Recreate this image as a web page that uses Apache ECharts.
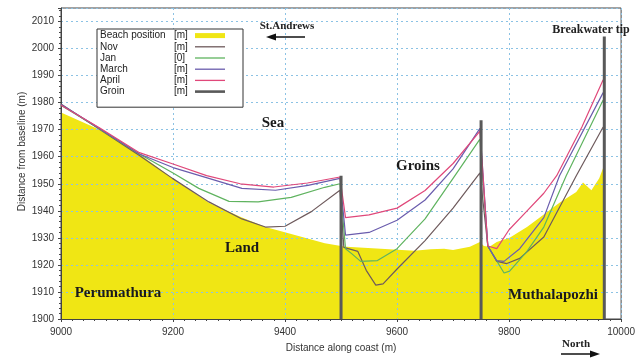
<!DOCTYPE html>
<html>
<head>
<meta charset="utf-8">
<script src="https://cdn.jsdelivr.net/npm/echarts@6/dist/echarts.min.js"></script>
<style>
  html, body { margin: 0; padding: 0; background: #fff; }
  .chart { width: 638px; height: 358px; }
</style>
</head>
<body>
<div class="chart"></div>
<script>
// shoreline positions, [distance along coast, distance from baseline]
var beach = [[9000,1976.4],[9069,1970],[9140,1961],[9199,1952],[9264,1943],[9323,1937.5],[9365,1934],[9411,1931.4],[9471,1928],[9500,1927],[9510,1926.7],[9571,1926],[9631,1925.2],[9660,1925.8],[9684,1926],[9700,1925.5],[9730,1926.7],[9748,1928.5],[9755,1927],[9765,1926.7],[9778,1928.5],[9801,1930],[9832,1934],[9862,1938.6],[9890,1943],[9920,1947],[9932,1950.5],[9947,1947.6],[9961,1952],[9970,1957]];
var nov = [[9000,1979.5],[9070,1970],[9140,1960.5],[9199,1952],[9264,1943.3],[9323,1937],[9365,1934],[9400,1934.3],[9447,1939.7],[9498,1947.6],[9505,1926.5],[9530,1925],[9545,1918],[9562,1912.5],[9575,1913],[9600,1918.5],[9650,1929],[9700,1941],[9748,1954],[9762,1927],[9778,1921.3],[9796,1920.5],[9819,1922.4],[9862,1930.3],[9920,1953],[9968,1971]];
var jan = [[9000,1979],[9070,1970.2],[9140,1961],[9200,1954],[9246,1948.3],[9300,1943.5],[9352,1943.3],[9411,1945],[9471,1948.7],[9498,1950],[9508,1926],[9520,1924],[9535,1921.3],[9565,1921.6],[9600,1926],[9650,1937],[9700,1952],[9748,1966.5],[9762,1927],[9791,1917],[9801,1917.7],[9832,1925],[9862,1934],[9902,1953],[9968,1981]];
var march = [[9000,1979.3],[9070,1970.3],[9140,1961],[9200,1956],[9264,1952],[9323,1948.3],[9383,1947.6],[9441,1949.4],[9498,1952],[9508,1931],[9550,1932],[9600,1936.5],[9650,1944],[9700,1955.5],[9748,1970.5],[9762,1927],[9778,1921.6],[9791,1921.3],[9819,1926],[9862,1937.5],[9890,1953],[9968,1983.7]];
var april = [[9000,1979],[9070,1970.5],[9140,1961.5],[9200,1957.3],[9260,1953],[9320,1950],[9380,1948.8],[9440,1950.3],[9498,1952.5],[9508,1937.5],[9550,1938.5],[9600,1941],[9650,1947.5],[9700,1957.5],[9748,1969.5],[9762,1927],[9778,1926],[9800,1933],[9830,1939.5],[9862,1946.5],[9885,1953],[9930,1971],[9968,1988.5]];
var groinX = [9500, 9750, 9970];
var groinTop = [1953, 1973.5, 2004.5];
var legendNames = ['Beach position', 'Nov', 'Jan', 'March', 'April', 'Groin'];
var legendUnits = ['[m]', '[m]', '[0]', '[m]', '[m]', '[m]'];

(function () {
    var myChart = echarts.init(document.querySelector('.chart'));
    var serif = 'Liberation Serif';
    var sans = 'Liberation Sans';

    function lineSeries(name, data, color) {
        return {
            name: name,
            type: 'line',
            data: data,
            symbol: 'none',
            lineStyle: { color: color, width: 1.2 },
            itemStyle: { color: color },
            z: 3
        };
    }

    var series = [
        {
            name: 'Beach position',
            type: 'line',
            data: beach,
            symbol: 'none',
            lineStyle: { width: 0 },
            itemStyle: { color: '#f0e614' },
            areaStyle: { color: '#f0e614', opacity: 1, origin: 'start' },
            z: 1
        },
        lineSeries('Nov', nov, '#6e5a5c'),
        lineSeries('Jan', jan, '#5fb35f'),
        lineSeries('March', march, '#6a5cad'),
        lineSeries('April', april, '#e0487a')
    ];
    groinX.forEach(function (x, i) {
        series.push({
            name: 'Groin',
            type: 'line',
            data: [[x, 1900], [x, groinTop[i]]],
            symbol: 'none',
            lineStyle: { color: '#595959', width: 3 },
            itemStyle: { color: '#595959' },
            z: 4
        });
    });

    // legend swatches: a thick bar for the beach, thin bars for the lines
    var icons = {
        'Beach position': 'path://M0,0H30V5H0Z',
        'Groin': 'path://M0,0H30V2.6H0Z'
    };
    var thinIcon = 'path://M0,0H30V1.3H0Z';

    var labels = [
        { text: 'Sea', x: 273, y: 123 },
        { text: 'Groins', x: 418, y: 166 },
        { text: 'Land', x: 242, y: 248 },
        { text: 'Perumathura', x: 118, y: 293 },
        { text: 'Muthalapozhi', x: 553, y: 295 }
    ];
    var graphic = labels.map(function (l) {
        return {
            type: 'text', x: l.x, y: l.y, z: 10,
            style: { text: l.text, font: 'bold 15px ' + serif, fill: '#1a1a1a', align: 'center', verticalAlign: 'middle' }
        };
    });
    graphic.push(
        { type: 'text', x: 287, y: 26, z: 10, style: { text: 'St.Andrews', font: 'bold 11px ' + serif, fill: '#222', align: 'center', verticalAlign: 'middle' } },
        { type: 'line', z: 10, shape: { x1: 274, y1: 37, x2: 305, y2: 37 }, style: { stroke: '#111', lineWidth: 1.5 } },
        { type: 'polygon', z: 10, shape: { points: [[266, 37], [276, 33.5], [276, 40.5]] }, style: { fill: '#111' } },
        { type: 'text', x: 591, y: 30, z: 10, style: { text: 'Breakwater tip', font: 'bold 12px ' + serif, fill: '#222', align: 'center', verticalAlign: 'middle' } },
        { type: 'text', x: 576, y: 344, z: 10, style: { text: 'North', font: 'bold 11px ' + serif, fill: '#222', align: 'center', verticalAlign: 'middle' } },
        { type: 'line', z: 10, shape: { x1: 561, y1: 354, x2: 592, y2: 354 }, style: { stroke: '#111', lineWidth: 1.5 } },
        { type: 'polygon', z: 10, shape: { points: [[600, 354], [590, 350.5], [590, 357.5]] }, style: { fill: '#111' } }
    );

    var option = {
        animation: false,
        backgroundColor: '#fff',
        grid: {
            left: 61, right: 12, top: 8, bottom: 31,
            show: true, borderColor: '#444', borderWidth: 1, backgroundColor: '#fff'
        },
        legend: {
            left: 97,
            top: 29,
            orient: 'vertical',
            align: 'right',
            selectedMode: false,
            backgroundColor: '#fff',
            borderColor: '#333',
            borderWidth: 1,
            borderRadius: 0,
            padding: [1, 18, 10, 3],
            itemGap: 0,
            itemWidth: 30,
            itemHeight: 5,
            symbolKeepAspect: true,
            z: 20,
            data: legendNames.map(function (n) {
                return { name: n, icon: icons[n] || thinIcon, itemStyle: { borderWidth: 0 } };
            }),
            formatter: function (name) {
                return '{n|' + name + '}{u|' + legendUnits[legendNames.indexOf(name)] + '}';
            },
            textStyle: {
                fontFamily: sans, fontSize: 10, color: '#222', lineHeight: 11.2,
                rich: {
                    n: { width: 74, align: 'left', fontFamily: sans, fontSize: 10, color: '#222' },
                    u: { width: 16, align: 'left', fontFamily: sans, fontSize: 10, color: '#222' }
                }
            }
        },
        xAxis: {
            type: 'value',
            min: 9000,
            max: 10000,
            interval: 200,
            z: 2,
            name: 'Distance along coast (m)',
            nameLocation: 'middle',
            nameGap: 24,
            nameTextStyle: { fontFamily: sans, fontSize: 10, color: '#333' },
            axisLine: { lineStyle: { color: '#444' } },
            axisTick: { length: 3, lineStyle: { color: '#444' } },
            minorTick: { show: true, splitNumber: 10, length: 2, lineStyle: { color: '#444' } },
            axisLabel: { fontFamily: sans, fontSize: 10, color: '#333', margin: 8, formatter: function (v) { return String(v); } },
            splitLine: { show: true, lineStyle: { color: '#8cc2e4', type: [2, 3], width: 1 } }
        },
        yAxis: {
            type: 'value',
            min: 1900,
            max: 2015,
            interval: 10,
            z: 2,
            name: 'Distance from baseline (m)',
            nameLocation: 'middle',
            nameGap: 34,
            nameMoveOverlap: false,
            nameTextStyle: { fontFamily: sans, fontSize: 10, color: '#333', padding: [0, 0, 0, 24] },
            axisLine: { show: true, lineStyle: { color: '#444' } },
            axisTick: { length: 3, lineStyle: { color: '#444' } },
            minorTick: { show: true, splitNumber: 5, length: 2, lineStyle: { color: '#444' } },
            axisLabel: { fontFamily: sans, fontSize: 10, color: '#333', margin: 7, showMaxLabel: false, formatter: function (v) { return String(v); } },
            splitLine: { show: true, lineStyle: { color: '#8cc2e4', type: [2, 3], width: 1 } }
        },
        graphic: graphic,
        series: series
    };

    myChart.setOption(option);
    window.addEventListener('resize', function () {
        myChart.resize();
    });
})();
</script>
</body>
</html>
